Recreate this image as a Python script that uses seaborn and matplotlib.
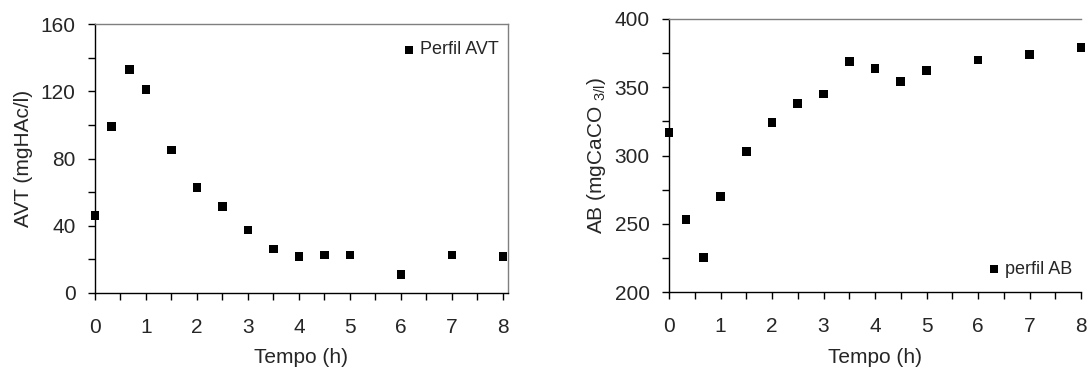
import matplotlib
matplotlib.use("Agg")
import matplotlib.pyplot as plt
from matplotlib.ticker import MultipleLocator
import seaborn as sns
import pandas as pd

# Data
tempo = [0, 0.33, 0.67, 1, 1.5, 2, 2.5, 3, 3.5, 4, 4.5, 5, 6, 7, 8]
avt = [46, 99, 133, 121, 85, 62.6, 51.5, 37.5, 26.2, 21.8, 22.6, 22.6, 10.9, 22.6, 21.8]
ab = [317, 253, 225, 270, 303, 324, 338, 345, 369, 364, 354, 362, 370, 374, 379]

sns.set_style("ticks")
plt.rcParams['font.family'] = ['Liberation Sans', 'DejaVu Sans']
plt.rcParams['mathtext.fontset'] = 'custom'
plt.rcParams['mathtext.rm'] = 'Liberation Sans'

df = pd.DataFrame({"Tempo": tempo, "AVT": avt, "AB": ab})

W, H = 1089, 370
fig = plt.figure(figsize=(W / 100, H / 100), dpi=100)

def axpos(l, r, t, b):
    return [l / W, 1 - b / H, (r - l) / W, (b - t) / H]

ax1 = fig.add_axes(axpos(95, 508, 24, 293))
ax2 = fig.add_axes(axpos(669, 1081, 19, 292))

sns.scatterplot(data=df, x="Tempo", y="AVT", ax=ax1, marker="s", color="black",
                s=40, edgecolor="none", label="Perfil AVT", clip_on=False)
sns.scatterplot(data=df, x="Tempo", y="AB", ax=ax2, marker="s", color="black",
                s=40, edgecolor="none", label="perfil AB", clip_on=False)

ax1.set_xlim(0, 8.1)
ax1.set_ylim(0, 160)
ax1.yaxis.set_major_locator(MultipleLocator(40))
ax1.yaxis.set_minor_locator(MultipleLocator(20))

ax2.set_xlim(0, 8.0)
ax2.set_ylim(200, 400)
ax2.yaxis.set_major_locator(MultipleLocator(50))
ax2.yaxis.set_minor_locator(MultipleLocator(25))

for ax in (ax1, ax2):
    ax.xaxis.set_major_locator(MultipleLocator(1))
    ax.xaxis.set_minor_locator(MultipleLocator(0.5))
    ax.tick_params(which='both', direction='out', length=5, width=1, color='black')
    ax.tick_params(axis='x', which='major', labelsize=15, pad=13)
    ax.tick_params(axis='y', which='major', labelsize=15, pad=9)
    ax.spines['left'].set_color('black')
    ax.spines['bottom'].set_color('black')
    ax.spines['top'].set_color('#7f7f7f')
    ax.spines['right'].set_color('#7f7f7f')
    for s in ax.spines.values():
        s.set_linewidth(1.0)
    ax.set_xlabel("Tempo (h)", fontsize=15)

ax2.spines['right'].set_visible(False)

ax1.set_ylabel("AVT (mgHAc/l)", fontsize=15)
ax2.set_ylabel(r"AB (mgCaCO $_{\mathregular{3/l}}$)", fontsize=15)

ax1.yaxis.set_label_coords((33 - 95) / 413, 0.5)
ax2.yaxis.set_label_coords((608 - 669) / 412, 0.5)
ax1.xaxis.set_label_coords(0.5, (293 - 348) / 269)
ax2.xaxis.set_label_coords(0.5, (292 - 348) / 273)

ax1.legend(loc='center right', bbox_to_anchor=((499 - 95) / 413, (293 - 50) / 269),
           frameon=False, fontsize=13, borderpad=0, borderaxespad=0,
           handlelength=0.6, handletextpad=0.3, markerscale=0.9)
ax2.legend(loc='center right', bbox_to_anchor=((1072 - 669) / 412, (292 - 269) / 273),
           frameon=False, fontsize=13, borderpad=0, borderaxespad=0,
           handlelength=0.6, handletextpad=0.3, markerscale=0.9)

fig.savefig("out.png", dpi=100)
